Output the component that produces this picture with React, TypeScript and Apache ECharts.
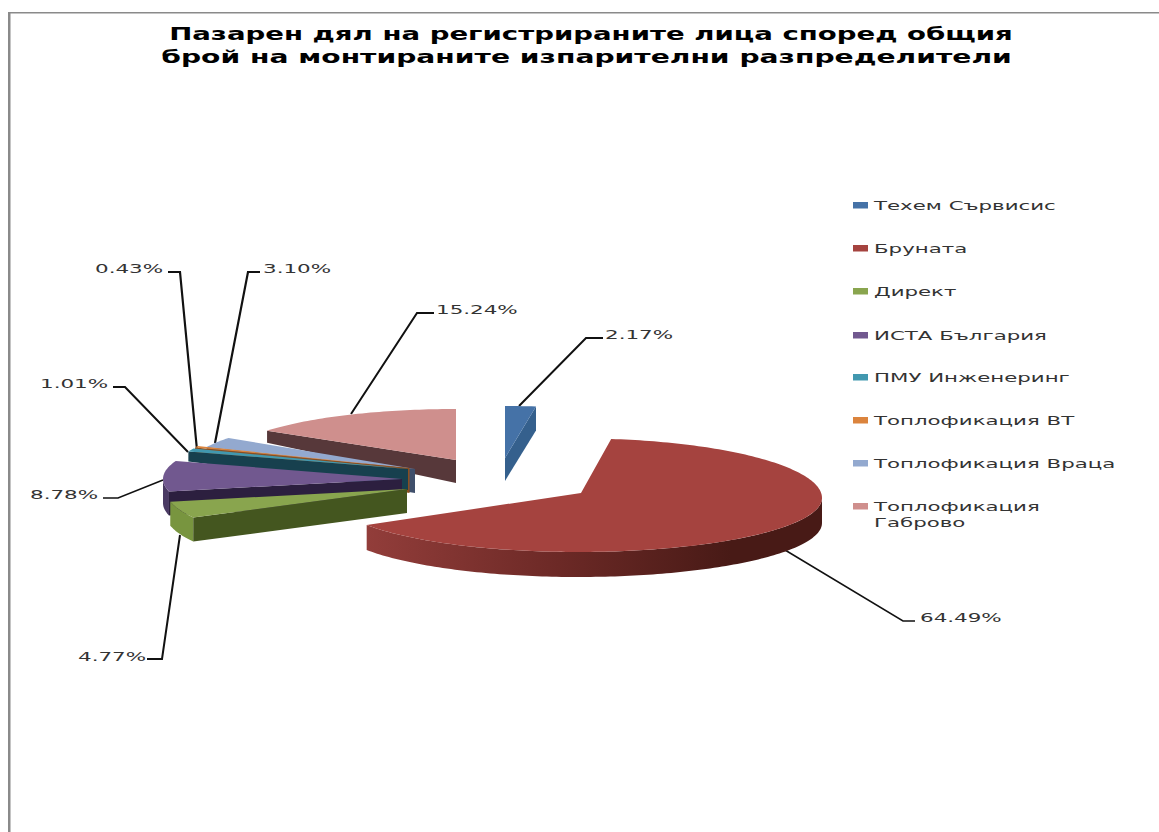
import React, { useEffect, useRef } from "react";
import * as echarts from "echarts";

const titleLines = [
  "Пазарен дял на регистрираните лица според общия",
  "брой на монтираните изпарителни разпределители",
];
const titleCenterX = [591, 586.5];
const titleCenterY = [34, 57];
const titleStretch = [1.623, 1.658];

const categories = [
  "Техем Сървисис",
  "Бруната",
  "Директ",
  "ИСТА България",
  "ПМУ Инженеринг",
  "Топлофикация ВТ",
  "Топлофикация Враца",
  "Топлофикация\nГаброво",
];
const shares = [2.17, 64.49, 4.77, 8.78, 1.01, 0.43, 3.1, 15.24];

// Styling: one entry per category
const topColors = ["#4572A7", "#A5433F", "#89A54E", "#71588F", "#4198AF", "#DB843D", "#93A9CF", "#CF8F8D"];
const cutColors = ["#35608D", "#7a2f2c", "#44561F", "#2C1F3F", "#17404E", "#8a4f20", "#3F4F6B", "#57383A"];
const wallColors = ["#35608D", "#7a2f2c", "#78953F", "#4a3a63", "#17404E", "#8a4f20", "#3F4F6B", "#57383A"];

// Exploded-slice layout (apex of the top face, radii, extrusion)
const apexX = [505, 581, 407, 402, 408, 409.5, 415, 456];
const apexY = [458, 493, 489, 479, 469, 468, 469, 460];
const rimShiftX = [0, -3, -31, 0, 0, 0, 0, 0];
const rimShiftY = [0, 5, 0, 0, 0, 0, 0, 0];
const radiusX = [228, 244, 211, 239, 232, 232, 228, 231];
const radiusBack = [52, 59.6, 57, 56, 54, 54, 54, 51];
const radiusFront = [52, 54, 57, 56, 54, 54, 54, 51];
const depthApex = [23, 25, 24, 24, 21, 25, 24, 23];
const depthOuter = [24, 25, 24, 24, 10, 10, 12, 12];

const drawOrder = [7, 6, 5, 4, 3, 2, 0, 1];

// Leader lines and label anchors
const leaderPoints = [
  [[519, 406], [586, 338], [603, 338]],
  [[785, 550], [903, 621], [915, 621]],
  [[180, 535], [162, 659], [147, 659]],
  [[163, 480], [118, 498], [103, 498]],
  [[188, 452], [125, 387], [113, 387]],
  [[197, 450], [180, 272], [168, 272]],
  [[215, 443], [248, 272], [260, 272]],
  [[351, 414], [417, 313], [434, 313]],
];
const leaderWidths = [2, 1.5, 2, 1.5, 2, 2.2, 2.2, 2];
const labelX = [605, 920, 78, 30, 40, 95, 263, 436];
const labelY = [335, 618, 657, 495, 384, 269, 269, 310];

const legendY = [205, 248, 291, 335, 377, 420, 463, 506];

const FONT = "DejaVu Sans";

const total = shares.reduce((a, b) => a + b, 0);

function makeRenderItem(i: number) {
  return (_params: any, api: any) => {
    const value = api.value(0);
    const before = api.value(1);
    const a0 = (before / total) * Math.PI * 2;
    const a1 = ((before + value) / total) * Math.PI * 2;
    const cx = apexX[i];
    const cy = apexY[i];
    const rx = radiusX[i];
    const pt = (a: number) => {
      const c = Math.cos(a);
      const ry = c > 0 ? radiusBack[i] : radiusFront[i];
      return [cx + rimShiftX[i] + rx * Math.sin(a), cy + rimShiftY[i] - ry * c];
    };
    const shift = (p: number[], d: number) => [p[0], p[1] + d];
    const steps = Math.max(2, Math.ceil((a1 - a0) / 0.02));
    const arc: number[][] = [];
    for (let k = 0; k <= steps; k++) arc.push(pt(a0 + ((a1 - a0) * k) / steps));
    const children: any[] = [];
    const apex = [cx, cy];
    const dA = depthApex[i];
    const dO = depthOuter[i];

    // outer wall: the part of the rim that faces the viewer
    const wallFrom = Math.max(a0, Math.PI / 2);
    const wallTo = Math.min(a1, (Math.PI * 3) / 2);
    if (wallTo > wallFrom) {
      const wsteps = Math.max(2, Math.ceil((wallTo - wallFrom) / 0.02));
      const rim: number[][] = [];
      for (let k = 0; k <= wsteps; k++) rim.push(pt(wallFrom + ((wallTo - wallFrom) * k) / wsteps));
      const lower = rim.map((p) => shift(p, dO)).reverse();
      const isRed = i === 1;
      children.push({
        type: "polygon",
        shape: { points: rim.concat(lower) },
        style: {
          fill: isRed
            ? {
                type: "linear", x: 1, y: 0, x2: 0, y2: 0,
                colorStops: [
                  { offset: 0, color: "#481a16" },
                  { offset: 0.2, color: "#481a16" },
                  { offset: 0.6, color: "#6e2a27" },
                  { offset: 1, color: "#923d3a" },
                ],
              }
            : wallColors[i],
        },
      });
    }
    // cut faces
    const startPt = arc[0];
    const endPt = arc[arc.length - 1];
    if (Math.sin(a0) < 0) {
      children.push({
        type: "polygon",
        shape: { points: [apex, startPt, shift(startPt, dO), shift(apex, dA)] },
        style: { fill: cutColors[i] },
      });
    }
    if (Math.sin(a1) > 0) {
      children.push({
        type: "polygon",
        shape: { points: [apex, endPt, shift(endPt, dO), shift(apex, dA)] },
        style: { fill: cutColors[i] },
      });
    }
    children.push({
      type: "polygon",
      shape: { points: [apex].concat(arc) },
      style: { fill: topColors[i] },
    });
    return { type: "group", children };
  };
}

function buildGraphic() {
  const els: any[] = [];
  // chart frame
  els.push({ type: "rect", shape: { x: 8, y: 12, width: 2.5, height: 820 }, style: { fill: "#8a8a8a" } });
  els.push({ type: "rect", shape: { x: 8, y: 12, width: 1151, height: 1.5 }, style: { fill: "#8a8a8a" } });
  titleLines.forEach((line, k) => {
    els.push({
      type: "text",
      x: titleCenterX[k],
      y: titleCenterY[k],
      scaleX: titleStretch[k],
      style: {
        text: line,
        font: `bold 17px "${FONT}"`,
        fill: "#000",
        textAlign: "center",
        textVerticalAlign: "middle",
      },
    });
  });
  categories.forEach((name, i) => {
    els.push({
      type: "rect",
      shape: { x: 853, y: legendY[i] - 3, width: 15, height: 6.5 },
      style: { fill: topColors[i] },
    });
    name.split("\n").forEach((part, k) => {
      els.push({
        type: "text",
        x: 874,
        y: legendY[i] + 1 + k * 16,
        scaleX: 1.64,
        style: {
          text: part,
          font: `13px "${FONT}"`,
          fill: "#333",
          textAlign: "left",
          textVerticalAlign: "middle",
        },
      });
    });
  });
  shares.forEach((v, i) => {
    els.push({
      type: "polyline",
      shape: { points: leaderPoints[i] },
      style: { stroke: "#111", lineWidth: leaderWidths[i], fill: "none" },
      z: 1,
    });
    els.push({
      type: "text",
      x: labelX[i],
      y: labelY[i],
      scaleX: 1.65,
      style: {
        text: v.toFixed(2) + "%",
        font: `13px "${FONT}"`,
        fill: "#333",
        textAlign: "left",
        textVerticalAlign: "middle",
      },
    });
  });
  return els;
}

export default function App() {
  const ref = useRef<HTMLDivElement>(null);
  useEffect(() => {
    document.body.style.margin = "0";
    const chart = echarts.init(ref.current!, undefined, { renderer: "svg" });
    let running = 0;
    const startOf = shares.map((v) => {
      const s = running;
      running += v;
      return s;
    });
    chart.setOption({
      animation: false,
      backgroundColor: "#fff",
      graphic: { elements: buildGraphic() },
      series: drawOrder.map((i, order) => ({
        type: "custom",
        name: categories[i].replace("\n", " "),
        coordinateSystem: "none",
        silent: true,
        z: 2 + order,
        data: [[shares[i], startOf[i]]],
        renderItem: makeRenderItem(i),
      })),
    });
    return () => chart.dispose();
  }, []);
  return <div ref={ref} style={{ width: 1159, height: 832 }} />;
}
